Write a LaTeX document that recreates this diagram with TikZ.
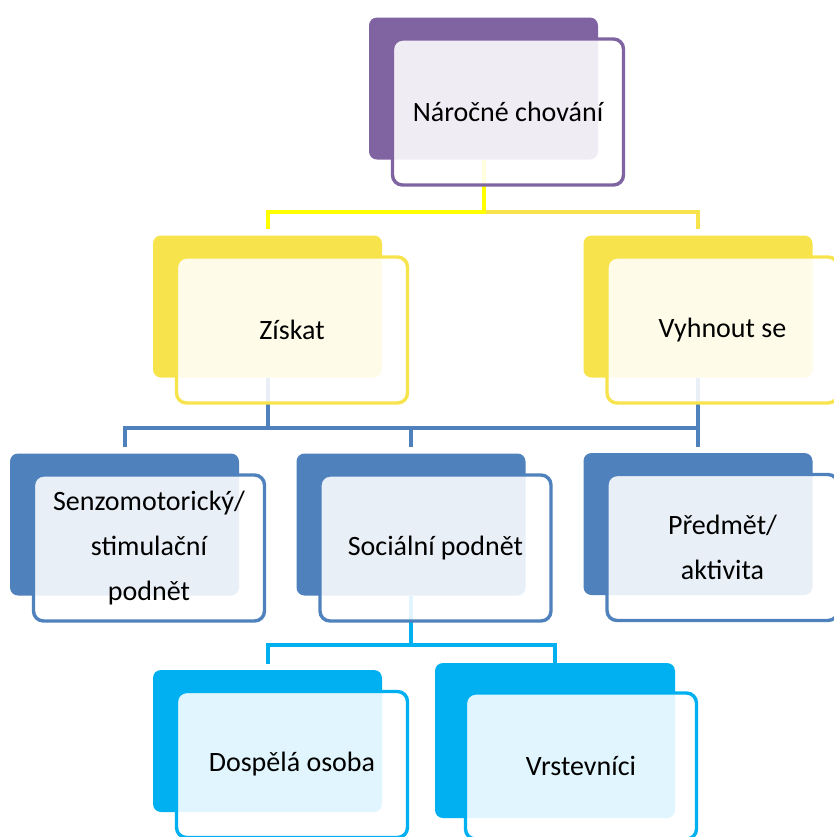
\documentclass[tikz,border=0pt]{standalone}
\usepackage{fontspec}
\setmainfont{Carlito}
\usepackage{xcolor}
\usepackage{tikz}

\definecolor{purp}{HTML}{8064A2}
\definecolor{gold}{HTML}{F7E34B}
\definecolor{ylw}{HTML}{FFFF00}
\definecolor{blu}{HTML}{4F81BD}
\definecolor{cyn}{HTML}{00B0F0}

\begin{document}
\begin{tikzpicture}[x=0.5pt,y=-0.5pt,
  back/.style={rectangle,rounded corners=4pt,inner sep=0pt,minimum width=114.5pt,minimum height=71pt},
  front/.style={rectangle,rounded corners=5pt,line width=1.7pt,fill=white,fill opacity=0.88,text opacity=1,inner sep=2pt,minimum width=115.5pt,minimum height=73pt,align=center,font=\fontsize{14}{22.5}\selectfont,xshift=12.25pt,yshift=-11.75pt},
  conn/.style={line width=2pt}]
  \useasboundingbox (0,0) rectangle (834,837);
  \node[back,fill=purp] (nc0) at (483.5,88.5) {};
  \node[back,fill=gold] (zi0) at (267.5,306.5) {};
  \node[back,fill=gold] (vy0) at (698,306.5) {};
  \node[back,fill=blu] (se0) at (124.5,524.5) {};
  \node[back,fill=blu] (so0) at (411,524.5) {};
  \node[back,fill=blu] (pr0) at (698,524) {};
  \node[back,fill=cyn] (do0) at (267.5,741) {};
  \node[back,fill=cyn,minimum width=120pt,minimum height=77.5pt] (vr0) at (555,740.5) {};
  \draw[conn,gold] (nc0.south) -- ++(0,52.2) -| ([yshift=3pt]vy0.north);
  \draw[conn,ylw] (nc0.south) -- ++(0,52.2) -| ([yshift=3pt]zi0.north);
  \draw[conn,blu] (zi0.south) -- ++(0,50) -| ([yshift=3pt]se0.north);
  \draw[conn,blu] (zi0.south) -- ++(0,50) -| ([yshift=3pt]so0.north);
  \draw[conn,blu] (zi0.south) -- ++(0,50) -| ([yshift=3pt]pr0.north);
  \draw[conn,blu] (vy0.south) -- ([yshift=3pt]pr0.north);
  \draw[conn,cyn] (so0.south) -- ++(0,49.5) -| ([yshift=3pt]do0.north);
  \draw[conn,cyn] (so0.south) -- ++(0,49.5) -| (vr0.north);
  \node[front,draw=purp] (nc) at (nc0) {Náročné chování};
  \node[front,draw=gold] (zi) at (zi0) {Získat};
  \node[front,draw=gold] (vy) at (vy0) {Vyhnout se};
  \node[front,draw=blu] (se) at (se0) {Senzomotorický/\\stimulační\\podnět};
  \node[front,draw=blu] (so) at (so0) {Sociální podnět};
  \node[front,draw=blu] (pr) at (pr0) {Předmět/\\aktivita};
  \node[front,draw=cyn] (do) at (do0) {Dospělá osoba};
  \node[front,draw=cyn,xshift=0.75pt,yshift=-1pt] (vr) at (vr0) {Vrstevníci};
\end{tikzpicture}
\end{document}
